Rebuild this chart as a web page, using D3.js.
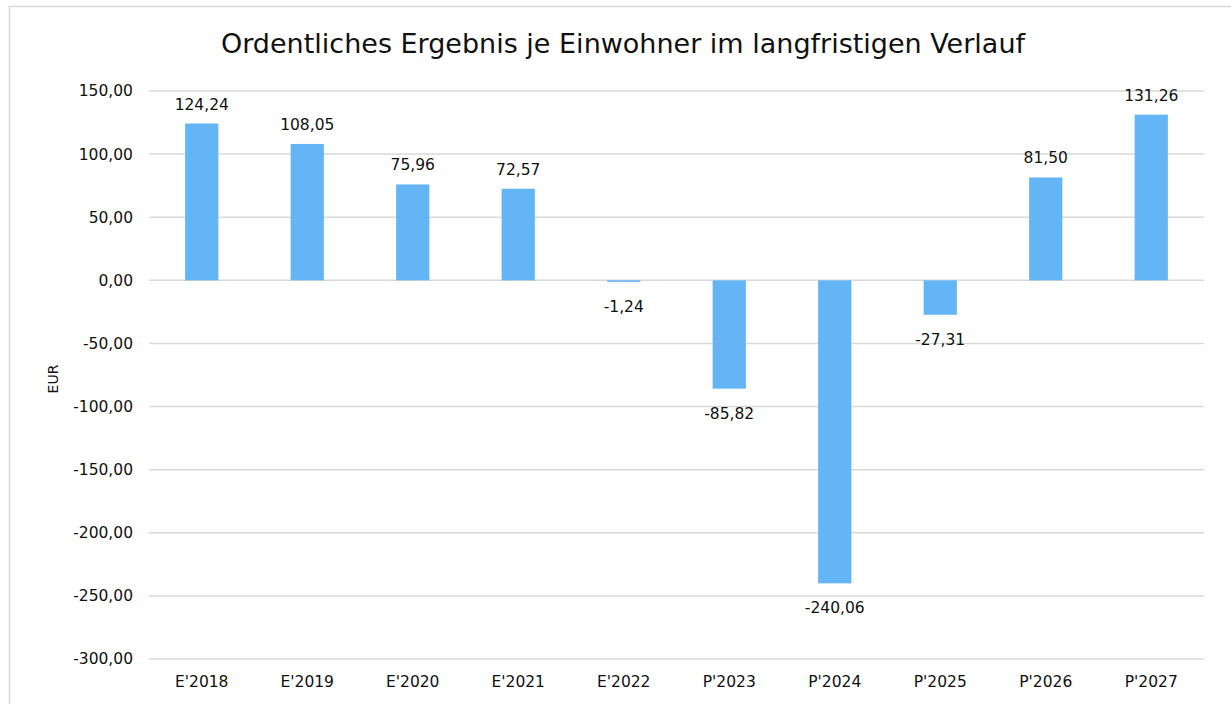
<!DOCTYPE html>
<html>
<head>
<meta charset="utf-8">
<script src="https://cdn.jsdelivr.net/npm/d3@7"></script>
<style>
  body { margin: 0; background: #fff; }
  text { font-family: "DejaVu Sans", Verdana, sans-serif; fill: #111; }
</style>
</head>
<body>
<div class="chart"></div>
<script>
var svgWidth = 1231;
var svgHeight = 704;

var margin = { top: 91, right: 27, bottom: 45, left: 149 };
var width = svgWidth - margin.left - margin.right;
var height = 659 - margin.top;

// data
var categories = ["E'2018", "E'2019", "E'2020", "E'2021", "E'2022",
                  "P'2023", "P'2024", "P'2025", "P'2026", "P'2027"];
var values = [124.24, 108.05, 75.96, 72.57, -1.24, -85.82, -240.06, -27.31, 81.50, 131.26];
var yTicks = [150, 100, 50, 0, -50, -100, -150, -200, -250, -300];

// German number style with a plain hyphen for negatives
var fmt = function(v) { return d3.format(".2f")(v).replace(".", ",").replace("\u2212", "-"); };

var svg = d3.select(".chart")
  .append("svg")
  .attr("width", svgWidth)
  .attr("height", svgHeight);

// outer chart frame
svg.append("rect")
  .attr("x", 9.5).attr("y", 6.5)
  .attr("width", svgWidth + 10).attr("height", svgHeight + 10)
  .attr("fill", "none")
  .attr("stroke", "#d9d9d9")
  .attr("stroke-width", 1.5);

var chartGroup = svg.append("g")
  .attr("transform", `translate(${margin.left}, ${margin.top})`);

var xScale = d3.scaleBand()
  .domain(categories)
  .range([0, width])
  .paddingInner(0.685)
  .paddingOuter(0.3425);

var yScale = d3.scaleLinear()
  .domain([-300, 150])
  .range([height, 0]);

// gridlines
chartGroup.append("g")
  .selectAll("line")
  .data(yTicks)
  .enter()
  .append("line")
  .attr("x1", 0)
  .attr("x2", width)
  .attr("y1", d => yScale(d))
  .attr("y2", d => yScale(d))
  .attr("stroke", "#d9d9d9")
  .attr("stroke-width", 1.5);

// y axis labels
var leftAxis = d3.axisLeft(yScale).tickValues(yTicks).tickFormat(fmt).tickSize(0).tickPadding(16);
var yAxis = chartGroup.append("g").call(leftAxis);
yAxis.select(".domain").remove();
yAxis.selectAll("text")
  .style("font-size", "15.5px")
  .style("font-family", "DejaVu Sans, Verdana, sans-serif")
  .attr("fill", "#111");

// bars
chartGroup.selectAll("rect.bar")
  .data(values)
  .enter()
  .append("rect")
  .attr("class", "bar")
  .attr("x", (d, i) => xScale(categories[i]))
  .attr("width", xScale.bandwidth())
  .attr("y", d => yScale(Math.max(0, d)))
  .attr("height", d => Math.max(1.5, Math.abs(yScale(d) - yScale(0))))
  .attr("fill", "#64b5f6");

// value labels
chartGroup.selectAll("text.val")
  .data(values)
  .enter()
  .append("text")
  .attr("class", "val")
  .attr("x", (d, i) => xScale(categories[i]) + xScale.bandwidth() / 2)
  .attr("y", d => d >= 0 ? yScale(d) - 14 : Math.max(yScale(d), yScale(0) + 1.5) + 30)
  .attr("text-anchor", "middle")
  .style("font-size", "15.5px")
  .text(d => fmt(d));

// x axis labels
chartGroup.selectAll("text.cat")
  .data(categories)
  .enter()
  .append("text")
  .attr("class", "cat")
  .attr("x", d => xScale(d) + xScale.bandwidth() / 2)
  .attr("y", height + 28)
  .attr("text-anchor", "middle")
  .style("font-size", "15.5px")
  .text(d => d);

// y axis title
svg.append("text")
  .attr("transform", "translate(58, 379) rotate(-90)")
  .attr("text-anchor", "middle")
  .style("font-size", "14px")
  .text("EUR");

// chart title
svg.append("text")
  .attr("x", 623)
  .attr("y", 53)
  .attr("text-anchor", "middle")
  .style("font-size", "27px")
  .text("Ordentliches Ergebnis je Einwohner im langfristigen Verlauf");
</script>
</body>
</html>
